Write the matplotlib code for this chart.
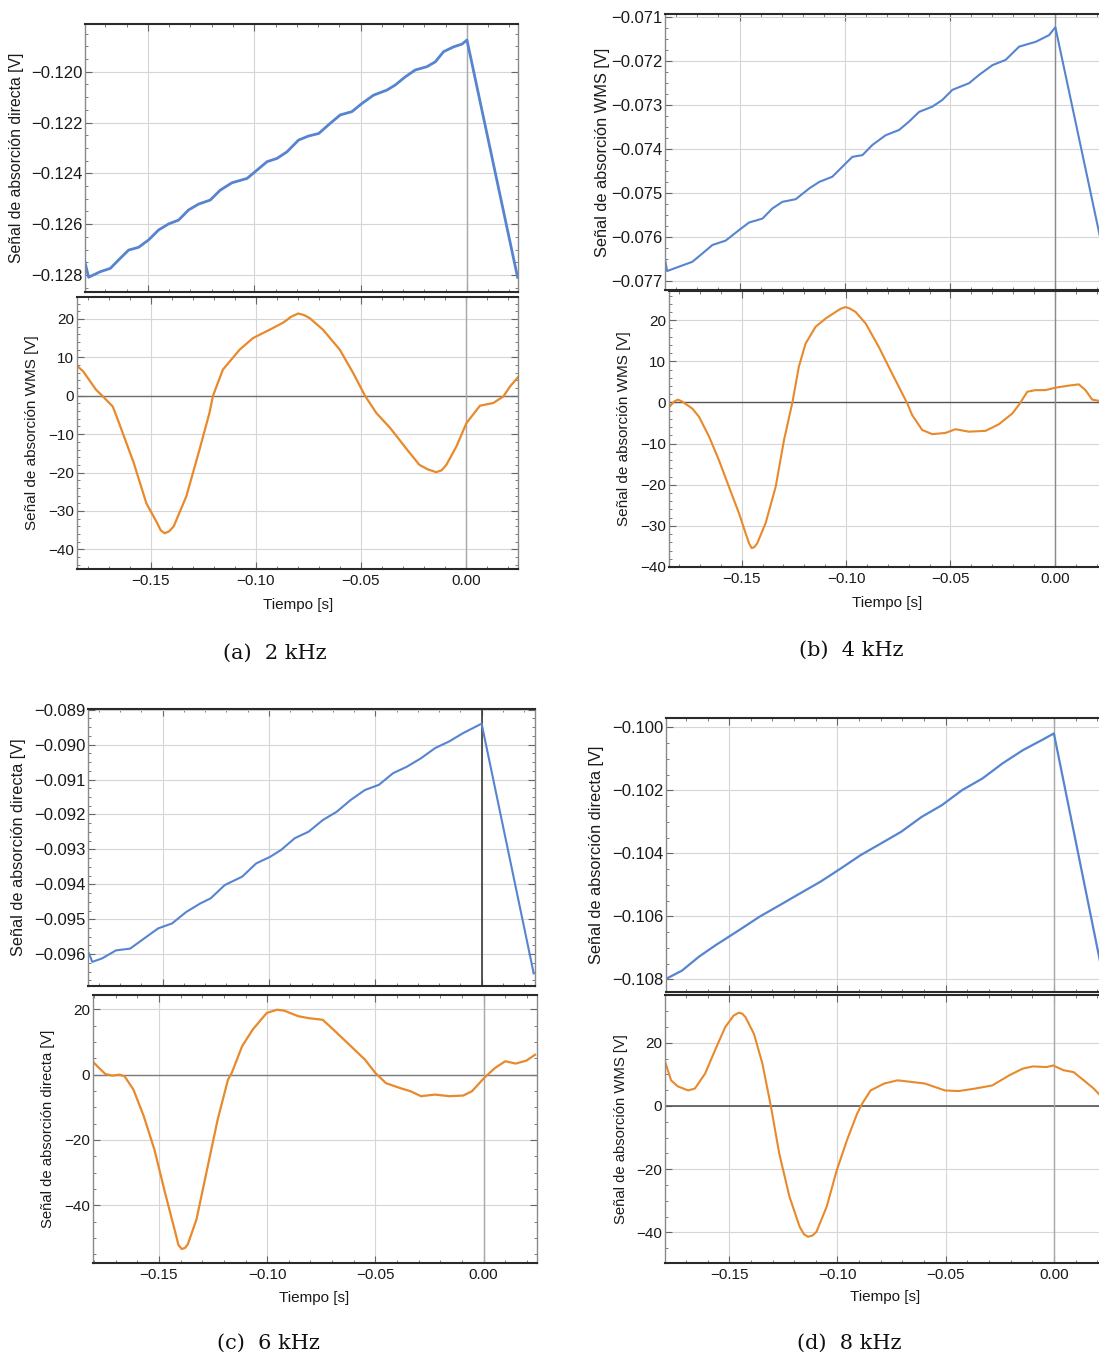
import numpy as np
import matplotlib.pyplot as plt
from matplotlib.ticker import MultipleLocator, FuncFormatter

plt.rcParams['font.family'] = ['Liberation Sans', 'DejaVu Sans']

# ---------------- data ----------------
# (a) 2 kHz
t_dir_a = [-0.1796, -0.1779, -0.1724, -0.1677, -0.1630, -0.1591, -0.1544, -0.1497, -0.1450, -0.1403,
           -0.1356, -0.1309, -0.1262, -0.1207, -0.1160, -0.1105, -0.1034, -0.0987, -0.0940, -0.0893,
           -0.0846, -0.0792, -0.0745, -0.0697, -0.0643, -0.0596, -0.0541, -0.0494, -0.0439, -0.0376,
           -0.0337, -0.0290, -0.0243, -0.0188, -0.0149, -0.0110, -0.0063, -0.0023, 0.0000, 0.0238]
v_dir_a = [-0.12750, -0.12809, -0.12787, -0.12774, -0.12734, -0.12702, -0.12691, -0.12662, -0.12623, -0.12599,
           -0.12584, -0.12544, -0.12521, -0.12505, -0.12466, -0.12437, -0.12420, -0.12387, -0.12354, -0.12341,
           -0.12315, -0.12269, -0.12253, -0.12243, -0.12203, -0.12170, -0.12157, -0.12125, -0.12092, -0.12072,
           -0.12052, -0.12020, -0.11993, -0.11980, -0.11961, -0.11921, -0.11902, -0.11891, -0.11875, -0.12809]
t_wms_a = [-0.1850, -0.1820, -0.1760, -0.1730, -0.1680, -0.1650, -0.1580, -0.1520, -0.1470, -0.1452,
           -0.1433, -0.1412, -0.1390, -0.1330, -0.1267, -0.1220, -0.1203, -0.1156, -0.1076, -0.1013,
           -0.0933, -0.0870, -0.0830, -0.0798, -0.0770, -0.0743, -0.0680, -0.0600, -0.0536, -0.0480,
           -0.0426, -0.0360, -0.0280, -0.0221, -0.0180, -0.0157, -0.0141, -0.0115, -0.0093, -0.0045,
           0.0003, 0.0067, 0.0130, 0.0178, 0.0210, 0.0249]
v_wms_a = [7.8, 6.3, 1.6, 0.0, -2.8, -7.1, -17.5, -28.0, -33.0, -35.0,
           -35.8, -35.3, -34.0, -26.2, -14.0, -4.5, 0.0, 6.8, 12.0, 15.0,
           17.2, 19.0, 20.6, 21.4, 21.0, 20.2, 17.2, 12.0, 5.9, 0.0,
           -4.5, -8.4, -14.0, -18.0, -19.2, -19.6, -19.9, -19.4, -18.0, -13.2,
           -7.1, -2.6, -1.9, -0.2, 2.4, 4.9]

# (b) 4 kHz
t_dir_b = [-0.1853, -0.1844, -0.1787, -0.1724, -0.1676, -0.1629, -0.1566, -0.1502, -0.1455, -0.1391,
           -0.1344, -0.1296, -0.1233, -0.1170, -0.1122, -0.1059, -0.0996, -0.0964, -0.0916, -0.0869,
           -0.0806, -0.0742, -0.0695, -0.0647, -0.0584, -0.0537, -0.0489, -0.0410, -0.0362, -0.0299,
           -0.0236, -0.0172, -0.0093, -0.0030, 0.0000, 0.0248]
v_dir_b = [-0.07652, -0.07677, -0.07667, -0.07656, -0.07637, -0.07618, -0.07608, -0.07584, -0.07567, -0.07558,
           -0.07535, -0.07520, -0.07514, -0.07490, -0.07475, -0.07463, -0.07433, -0.07418, -0.07414, -0.07391,
           -0.07369, -0.07357, -0.07338, -0.07316, -0.07304, -0.07289, -0.07266, -0.07251, -0.07232, -0.07210,
           -0.07198, -0.07168, -0.07157, -0.07142, -0.07124, -0.07680]
t_wms_b = [-0.1845, -0.1824, -0.1805, -0.1784, -0.1736, -0.1704, -0.1656, -0.1609, -0.1561, -0.1513,
           -0.1481, -0.1465, -0.1452, -0.1440, -0.1425, -0.1385, -0.1337, -0.1297, -0.1257, -0.1226,
           -0.1194, -0.1146, -0.1098, -0.1050, -0.1025, -0.1002, -0.0980, -0.0954, -0.0906, -0.0843,
           -0.0779, -0.0731, -0.0707, -0.0683, -0.0635, -0.0587, -0.0523, -0.0476, -0.0412, -0.0332,
           -0.0268, -0.0204, -0.0172, -0.0132, -0.0093, -0.0045, 0.0003, 0.0067, 0.0115, 0.0147,
           0.0179, 0.0211, 0.0245]
v_wms_b = [-1.0, 0.2, 0.7, 0.2, -1.5, -3.5, -8.3, -14.0, -20.5, -26.9,
           -31.8, -34.2, -35.4, -35.2, -34.2, -29.3, -20.5, -9.1, 0.0, 8.7,
           14.3, 18.4, 20.4, 22.0, 22.8, 23.2, 22.8, 22.0, 19.2, 13.5,
           7.0, 2.2, -0.2, -3.1, -6.7, -7.7, -7.4, -6.5, -7.1, -6.9,
           -5.3, -2.7, -0.6, 2.6, 3.0, 3.0, 3.6, 4.1, 4.4, 3.0,
           0.7, 0.4, 0.5]

# (c) 6 kHz
t_dir_c = [-0.1846, -0.1831, -0.1785, -0.1719, -0.1653, -0.1587, -0.1521, -0.1456, -0.1389, -0.1324,
           -0.1274, -0.1208, -0.1126, -0.1060, -0.0994, -0.0944, -0.0879, -0.0813, -0.0747, -0.0681,
           -0.0615, -0.0549, -0.0483, -0.0417, -0.0351, -0.0285, -0.0219, -0.0153, -0.0087, 0.0000, 0.0245]
v_dir_c = [-0.09598, -0.09622, -0.09612, -0.09589, -0.09584, -0.09555, -0.09526, -0.09512, -0.09479, -0.09455,
           -0.09440, -0.09402, -0.09378, -0.09340, -0.09321, -0.09302, -0.09268, -0.09249, -0.09216, -0.09192,
           -0.09158, -0.09130, -0.09115, -0.09082, -0.09063, -0.09039, -0.09010, -0.08991, -0.08967, -0.08940,
           -0.09655]
t_wms_c = [-0.1800, -0.1781, -0.1748, -0.1716, -0.1683, -0.1659, -0.1618, -0.1570, -0.1521, -0.1472,
           -0.1424, -0.1410, -0.1395, -0.1380, -0.1367, -0.1327, -0.1278, -0.1229, -0.1181, -0.1164,
           -0.1116, -0.1067, -0.1002, -0.0954, -0.0921, -0.0856, -0.0808, -0.0743, -0.0678, -0.0613,
           -0.0548, -0.0500, -0.0451, -0.0386, -0.0337, -0.0289, -0.0224, -0.0159, -0.0094, -0.0054,
           0.0003, 0.0052, 0.0100, 0.0149, 0.0198, 0.0238]
v_wms_c = [3.6, 2.3, 0.2, -0.3, 0.0, -0.5, -4.6, -12.8, -23.0, -36.2,
           -48.5, -52.2, -53.4, -53.1, -52.0, -44.4, -29.1, -13.8, -1.5, 0.5,
           8.7, 13.8, 18.9, 19.9, 19.6, 17.9, 17.3, 16.8, 12.8, 8.7,
           4.6, 0.5, -2.6, -4.1, -5.1, -6.6, -6.1, -6.6, -6.4, -5.1,
           -1.0, 2.0, 4.1, 3.4, 4.3, 6.1]

# (d) 8 kHz
t_dir_d = [-0.1788, -0.1718, -0.1640, -0.1562, -0.1453, -0.1360, -0.1266, -0.1173, -0.1079, -0.0985,
           -0.0892, -0.0798, -0.0705, -0.0611, -0.0518, -0.0424, -0.0330, -0.0237, -0.0143, -0.0050,
           0.0000, 0.0230]
v_dir_d = [-0.10797, -0.10772, -0.10728, -0.10691, -0.10643, -0.10601, -0.10564, -0.10527, -0.10490, -0.10448,
           -0.10405, -0.10368, -0.10331, -0.10284, -0.10247, -0.10199, -0.10162, -0.10114, -0.10072, -0.10038,
           -0.10019, -0.10800]
t_wms_d = [-0.1794, -0.1769, -0.1738, -0.1690, -0.1659, -0.1612, -0.1566, -0.1519, -0.1480, -0.1456,
           -0.1440, -0.1425, -0.1386, -0.1347, -0.1308, -0.1269, -0.1222, -0.1175, -0.1155, -0.1136,
           -0.1115, -0.1097, -0.1050, -0.1003, -0.0956, -0.0909, -0.0886, -0.0847, -0.0784, -0.0722,
           -0.0659, -0.0597, -0.0550, -0.0503, -0.0441, -0.0363, -0.0284, -0.0206, -0.0144, -0.0097,
           -0.0034, -0.0003, 0.0044, 0.0091, 0.0138, 0.0184, 0.0213, 0.0245]
v_wms_d = [13.4, 8.1, 6.2, 4.9, 5.5, 10.2, 17.6, 24.9, 28.6, 29.5,
           29.2, 28.1, 22.8, 13.4, 0.0, -15.1, -28.7, -38.2, -40.6, -41.4,
           -41.0, -39.8, -31.9, -20.3, -10.8, -2.4, 0.7, 4.9, 7.1, 8.1,
           7.6, 7.1, 6.0, 4.9, 4.7, 5.5, 6.5, 9.7, 11.8, 12.5,
           12.3, 12.8, 11.3, 10.7, 8.1, 5.5, 3.4, 2.0]

captions = ["(a)  2 kHz", "(b)  4 kHz", "(c)  6 kHz", "(d)  8 kHz"]
lab_dir = "Señal de absorción directa [V]"
lab_wms = "Señal de absorción WMS [V]"

BLUE = '#5784D0'
ORANGE = '#E8892C'

W, H = 1099, 1359
fig = plt.figure(figsize=(W / 100, H / 100), dpi=100)


def px_axes(l, t, r, b):
    return fig.add_axes([l / W, 1 - b / H, (r - l) / W, (b - t) / H])


def xfmt(v, p):
    s = f"{v:.2f}"
    if s == "-0.00":
        s = "0.00"
    return s.replace('-', '\u2212')


def make_yfmt(nd):
    def f(v, p):
        s = f"{v:.{nd}f}"
        if float(s) == 0:
            s = s.lstrip('-')
        return s.replace('-', '\u2212')
    return f


def style(ax, xlim, ylim, ymaj, ymin, nd, size, bottom_labels):
    ax.set_xlim(xlim)
    ax.set_ylim(ylim)
    ax.xaxis.set_major_locator(MultipleLocator(0.05))
    ax.xaxis.set_minor_locator(MultipleLocator(0.01))
    ax.yaxis.set_major_locator(MultipleLocator(ymaj))
    ax.yaxis.set_minor_locator(MultipleLocator(ymin))
    ax.xaxis.set_major_formatter(FuncFormatter(xfmt))
    ax.yaxis.set_major_formatter(FuncFormatter(make_yfmt(nd)))
    ax.grid(True, which='major', color='#d6d6d6', lw=0.8)
    ax.set_axisbelow(True)
    ax.tick_params(which='both', direction='in', top=True, right=True,
                   color='#666666', labelcolor='#1a1a1a', labelsize=size,
                   labelbottom=bottom_labels)
    ax.tick_params(axis='y', which='major', pad=2)
    ax.tick_params(which='major', length=5, width=0.8)
    ax.tick_params(which='minor', length=2.5, width=0.6)
    for side in ['top', 'bottom']:
        ax.spines[side].set_color('#2a2a2a')
        ax.spines[side].set_linewidth(1.5)
    for side in ['left', 'right']:
        ax.spines[side].set_color('#8a8a8a')
        ax.spines[side].set_linewidth(1.0)


def place_ylabel(ax, text, xpx, size):
    ax.set_ylabel(text, fontsize=size, color='#1a1a1a')
    pos = ax.get_position()
    ax.yaxis.set_label_coords(xpx / W, pos.y0 + pos.height / 2, transform=fig.transFigure)
    ax.yaxis.label.set_va('center')


def place_xlabel(ax, xpx, ypx):
    ax.set_xlabel("Tiempo [s]", fontsize=11, color='#1a1a1a')
    ax.xaxis.set_label_coords(xpx / W, 1 - ypx / H, transform=fig.transFigure)
    ax.xaxis.label.set_va('center')


# ---------------- (a) ----------------
ax = px_axes(85, 24, 518, 292)
style(ax, (-0.1796, 0.0240), (-0.12867, -0.11812), 0.002, 0.0005, 3, 12, False)
ax.axvline(0, color='#a8a8a8', lw=1)
ax.plot(t_dir_a, v_dir_a, color=BLUE, lw=2.0)
place_ylabel(ax, lab_dir, 17, 11.3)

ax = px_axes(77, 297, 518, 569)
style(ax, (-0.1850, 0.0248), (-45.1, 25.7), 10, 2, 0, 11, True)
ax.axhline(0, color='#6e6e6e', lw=1)
ax.axvline(0, color='#a8a8a8', lw=1)
ax.plot(t_wms_a, v_wms_a, color=ORANGE, lw=1.6)
place_ylabel(ax, lab_wms, 32, 11)
place_xlabel(ax, 298, 605)

# ---------------- (b) ----------------
ax = px_axes(665, 14, 1108, 290)
style(ax, (-0.1854, 0.0250), (-0.0772, -0.07094), 0.001, 0.00025, 3, 12, False)
ax.axvline(0, color='#8a8a8a', lw=1)
ax.plot(t_dir_b, v_dir_b, color=BLUE, lw=1.5)
place_ylabel(ax, lab_wms, 602, 11.8)

ax = px_axes(669, 291, 1107, 567)
style(ax, (-0.1848, 0.0250), (-40, 27.1), 10, 2, 0, 11, True)
ax.axhline(0, color='#555555', lw=1)
ax.axvline(0, color='#8a8a8a', lw=1)
ax.plot(t_wms_b, v_wms_b, color=ORANGE, lw=1.5)
place_ylabel(ax, lab_wms, 624, 11)
place_xlabel(ax, 887, 603)

# ---------------- (c) ----------------
ax = px_axes(88, 709, 535, 986)
style(ax, (-0.1851, 0.0251), (-0.09691, -0.08898), 0.001, 0.00025, 3, 12, False)
ax.axvline(0, color='#3a3a3a', lw=1.2)
ax.plot(t_dir_c, v_dir_c, color=BLUE, lw=1.5)
place_ylabel(ax, lab_dir, 19, 11.7)

ax = px_axes(93, 995, 537, 1263)
style(ax, (-0.1805, 0.0247), (-57.7, 24.4), 20, 5, 0, 11, True)
ax.axhline(0, color='#7a7a7a', lw=1)
ax.axvline(0, color='#a8a8a8', lw=1)
ax.plot(t_wms_c, v_wms_c, color=ORANGE, lw=1.6)
place_ylabel(ax, lab_dir, 48, 10.7)
place_xlabel(ax, 314, 1298)

# ---------------- (d) ----------------
ax = px_axes(666, 718, 1108, 992)
style(ax, (-0.1792, 0.0250), (-0.1084, -0.0997), 0.002, 0.0005, 3, 12, False)
ax.axvline(0, color='#a8a8a8', lw=1)
ax.plot(t_dir_d, v_dir_d, color=BLUE, lw=1.6)
place_ylabel(ax, lab_dir, 597, 11.8)

ax = px_axes(665, 995, 1108, 1263)
style(ax, (-0.1797, 0.0250), (-49.7, 35.1), 20, 5, 0, 11, True)
ax.axhline(0, color='#555555', lw=1.2)
ax.axvline(0, color='#a8a8a8', lw=1)
ax.plot(t_wms_d, v_wms_d, color=ORANGE, lw=1.5)
place_ylabel(ax, lab_wms, 621, 10.7)
place_xlabel(ax, 885, 1297)

# ---------------- captions ----------------
for txt, (cx, cy) in zip(captions, [(275, 653), (851, 650), (268, 1343), (849, 1343)]):
    fig.text(cx / W, 1 - cy / H, txt, ha='center', va='center',
             family='DejaVu Serif', fontsize=15, color='#111111')

fig.savefig('out.png', dpi=100)
